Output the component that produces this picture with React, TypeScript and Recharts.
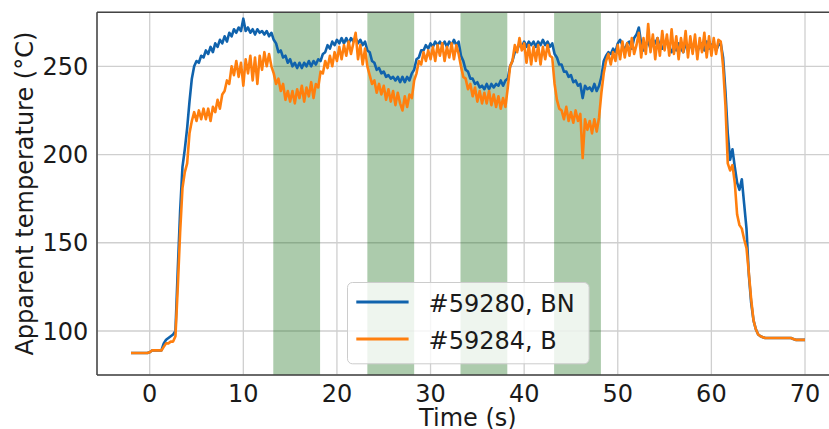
import React from 'react';
import {
  LineChart,
  Line,
  XAxis,
  YAxis,
  CartesianGrid,
  ReferenceArea,
  ReferenceLine,
  Legend,
} from 'recharts';

// ---- data ----
const T_START = -2; // s, first sample
const T_STEP = 0.25; // s, sampling interval
const X_TICKS = [0, 10, 20, 30, 40, 50, 60, 70];
const Y_TICKS = [100, 150, 200, 250];
const X_DOMAIN = [-5.63, 73.6];
const Y_DOMAIN = [75.07, 280.6];
const BANDS = [
  [13.2, 18.2],
  [23.25, 28.25],
  [33.2, 38.2],
  [43.2, 48.2],
];
const SERIES_NAMES = ['#59280, BN', '#59284, B'];
const X_LABEL = 'Time (s)';
const Y_LABEL = 'Apparent temperature (°C)';

// #59280, BN  (4 samples per second, from t = -2 s)
const BN = [
  87.5, 87.5, 87.5, 87.5,
  87.5, 87.5, 87.5, 87.5,
  88, 89, 89, 89,
  89, 89, 93, 95,
  96, 97, 98, 100,
  135, 168, 193, 203,
  215, 230, 243, 250,
  253, 252, 256, 255,
  259, 257, 261, 258,
  263, 261, 265, 263,
  267, 264, 269, 267,
  271, 269, 272, 270,
  277, 270, 272, 269,
  271, 268, 271, 269,
  270, 268, 270, 267,
  269, 265, 263, 258,
  259, 255, 256, 252,
  254, 250, 252, 249,
  252, 249, 252, 250,
  253, 250, 253, 251,
  254, 253, 257, 258,
  262, 260, 264, 262,
  265, 263, 266, 263,
  266, 263, 266, 264,
  266, 263, 265, 262,
  264, 259, 258, 253,
  252, 248, 249, 246,
  247, 244, 245, 243,
  244, 242, 244, 241,
  244, 241, 244, 242,
  246, 248, 254, 255,
  259, 259, 262, 260,
  263, 261, 264, 262,
  264, 262, 264, 261,
  264, 262, 265, 262,
  264, 256, 253, 248,
  247, 243, 243, 240,
  241, 238, 239, 237,
  240, 237, 240, 238,
  240, 239, 242, 239,
  242, 243, 250, 253,
  258, 259, 263, 261,
  264, 261, 264, 262,
  264, 261, 264, 262,
  265, 262, 264, 261,
  263, 257, 255, 251,
  251, 247, 247, 244,
  245, 241, 242, 239,
  240, 232, 239, 237,
  238, 236, 240, 236,
  239, 244, 253, 256,
  258, 257, 260, 258,
  263, 265, 262, 259,
  263, 264, 260, 266,
  268, 272, 263, 259,
  262, 264, 260, 265,
  263, 266, 261, 260,
  263, 265, 260, 258,
  262, 259, 263, 260,
  258, 263, 259, 262,
  260, 264, 258, 262,
  263, 259, 264, 260,
  262, 263, 259, 262,
  263, 255, 236, 212,
  197, 203, 193, 184,
  180, 186, 172, 158,
  132, 116, 106, 101,
  98, 97, 96.5, 96,
  96, 96, 96, 96,
  96, 96, 96, 96,
  96, 96, 96, 95.5,
  95, 95, 95, 95,
  95,
];

// #59284, B  (4 samples per second, from t = -2 s)
const B = [
  87.5, 87.5, 87.5, 87.5,
  87.5, 87.5, 87.5, 87.5,
  88, 89, 89, 89,
  89, 89, 91, 93,
  93, 94, 94, 97,
  125, 156, 181, 190,
  195, 212, 219, 224,
  219, 225, 220, 226,
  220, 226, 219, 227,
  224, 231, 226, 234,
  236, 242, 240, 250,
  245, 253, 244, 252,
  239, 254, 246, 256,
  242, 255, 240, 256,
  248, 258, 250, 257,
  250, 246, 240, 243,
  236, 240, 231, 236,
  230, 236, 229, 237,
  232, 239, 230, 238,
  233, 241, 232, 240,
  238, 247, 246, 253,
  249, 256, 250, 258,
  253, 261, 254, 262,
  256, 264, 257, 263,
  269, 254, 262, 251,
  260, 250, 245, 240,
  242, 235, 240, 234,
  239, 231, 237, 230,
  236, 228, 235, 229,
  225, 233, 227, 234,
  232, 242, 246, 253,
  251, 258, 253, 259,
  254, 261, 253, 262,
  256, 263, 253, 261,
  255, 263, 254, 262,
  257, 250, 244, 243,
  237, 240, 233, 238,
  230, 236, 229, 235,
  229, 236, 228, 234,
  227, 233, 226, 232,
  227, 238, 250, 253,
  262, 258, 266, 259,
  263, 252, 262, 251,
  261, 253, 262, 251,
  261, 254, 262, 256,
  255, 240, 231, 226,
  225, 220, 227, 219,
  224, 218, 225, 219,
  223, 198, 220, 214,
  219, 212, 220, 213,
  221, 235, 246, 253,
  257, 251, 258, 253,
  262, 254, 264, 255,
  263, 256, 266, 257,
  262, 269, 255, 266,
  257, 274, 258, 268,
  254, 266, 256, 270,
  259, 268, 256, 271,
  257, 267, 254, 266,
  258, 270, 255, 267,
  257, 268, 254, 266,
  258, 269, 255, 267,
  256, 266, 257, 265,
  264, 250, 228, 195,
  191, 194, 184, 166,
  160, 158, 152, 147,
  133, 118, 106, 101,
  98, 97, 96.5, 96,
  96, 96, 96, 96,
  96, 96, 96, 96,
  96, 96, 96, 95.5,
  95, 95, 95, 95,
  95,
];

// ---- styles ----
const BLUE = '#1063ad';
const ORANGE = '#ff7f0e';
const FONT = "'DejaVu Sans', sans-serif";
const FS = 24;
const TEXT = '#1a1a1a';
const SPINE = '#444444';

const rows = BN.map((v, i) => ({ t: T_START + i * T_STEP, bn: v, b: B[i] }));

const LegendBox = () => (
  <svg width={243} height={83} style={{ display: 'block' }}>
    <rect
      x={0.5}
      y={0.5}
      width={241.6}
      height={81.3}
      rx={5}
      ry={5}
      fill="#ffffff"
      fillOpacity={0.8}
      stroke="#cccccc"
      strokeWidth={1}
    />
    <line x1={9.3} x2={61.6} y1={20} y2={20} stroke={BLUE} strokeWidth={2.8} />
    <text x={81.6} y={29.6} fontFamily={FONT} fontSize={FS} fill={TEXT}>
      {SERIES_NAMES[0]}
    </text>
    <line x1={9.3} x2={61.6} y1={57} y2={57} stroke={ORANGE} strokeWidth={2.8} />
    <text x={81.6} y={66.6} fontFamily={FONT} fontSize={FS} fill={TEXT}>
      {SERIES_NAMES[1]}
    </text>
  </svg>
);

export default function App() {
  return (
    <div
      style={{
        position: 'absolute',
        left: 0,
        top: 0,
        width: 829,
        height: 429,
        overflow: 'hidden',
        background: '#ffffff',
      }}
    >
      <LineChart
        width={845}
        height={429}
        data={rows}
        margin={{ top: 12.3, right: 6.3, bottom: 0, left: 0 }}
      >
        <CartesianGrid stroke="#cfcfcf" strokeWidth={1.3} />
        {BANDS.map(([a, b], i) => (
          <ReferenceArea
            key={i}
            x1={a}
            x2={b}
            fill="#1a6e1a"
            fillOpacity={0.36}
            stroke="none"
            ifOverflow="visible"
          />
        ))}
        <XAxis
          type="number"
          dataKey="t"
          domain={X_DOMAIN}
          ticks={X_TICKS}
          allowDataOverflow
          height={54}
          tickLine={false}
          tickSize={6}
          tickMargin={4}
          axisLine={{ stroke: SPINE, strokeWidth: 1.5 }}
          tick={{ fill: TEXT, fontSize: FS, fontFamily: FONT }}
          label={() => (
            <text
              x={467.85}
              y={426}
              textAnchor="middle"
              fontFamily={FONT}
              fontSize={FS}
              fill={TEXT}
            >
              {X_LABEL}
            </text>
          )}
        />
        <YAxis
          type="number"
          domain={Y_DOMAIN}
          ticks={Y_TICKS}
          allowDataOverflow
          width={97}
          tickLine={false}
          tickSize={6}
          tickMargin={2.7}
          axisLine={{ stroke: SPINE, strokeWidth: 1.5 }}
          tick={{ fill: TEXT, fontSize: FS, fontFamily: FONT }}
          label={() => (
            <text
              x={33.3}
              y={193.65}
              transform="rotate(-90, 33.3, 193.65)"
              textAnchor="middle"
              fontFamily={FONT}
              fontSize={FS}
              fill={TEXT}
            >
              {Y_LABEL}
            </text>
          )}
        />
        <ReferenceLine y={Y_DOMAIN[1]} stroke={SPINE} strokeWidth={1.5} ifOverflow="visible" />
        <Line
          type="linear"
          dataKey="bn"
          name={SERIES_NAMES[0]}
          stroke={BLUE}
          strokeWidth={2.6}
          strokeLinejoin="round"
          dot={false}
          isAnimationActive={false}
        />
        <Line
          type="linear"
          dataKey="b"
          name={SERIES_NAMES[1]}
          stroke={ORANGE}
          strokeWidth={2.6}
          strokeLinejoin="round"
          dot={false}
          isAnimationActive={false}
        />
        <Legend
          layout="vertical"
          align="center"
          verticalAlign="middle"
          content={() => <LegendBox />}
          wrapperStyle={{ left: 346.7, top: 281.7, width: 243, height: 83 }}
        />
      </LineChart>
    </div>
  );
}
